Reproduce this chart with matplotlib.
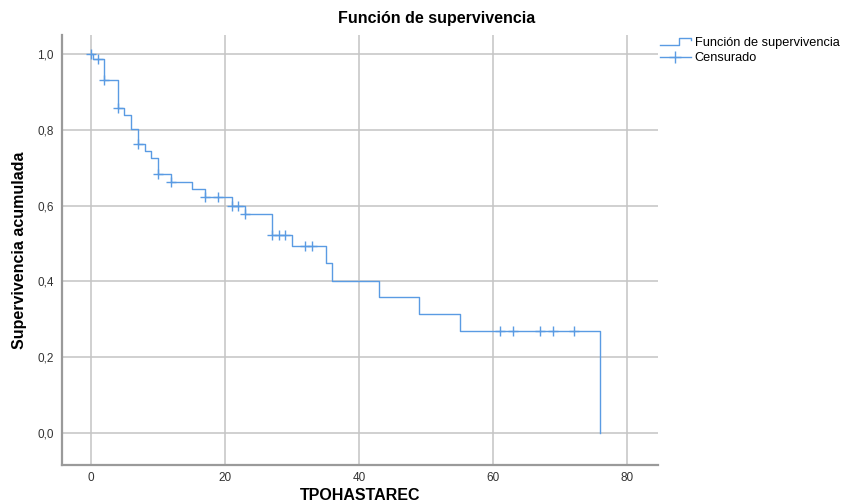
import matplotlib
matplotlib.use('Agg')
import matplotlib.pyplot as plt
from matplotlib.lines import Line2D
from matplotlib.legend_handler import HandlerBase
import numpy as np

plt.rcParams['font.family'] = ['Liberation Sans', 'DejaVu Sans']

# KAPLAN-MEIER STEPS
step_times = [0, 0.3, 2, 4, 5, 6, 7, 8, 9, 10, 12, 15, 17, 21, 23, 27, 30, 35, 36, 43, 49, 55, 76]
step_surv = [1.0, 0.986, 0.931, 0.857, 0.838, 0.801, 0.762, 0.743, 0.725, 0.683, 0.663, 0.643,
             0.622, 0.600, 0.577, 0.522, 0.493, 0.448, 0.402, 0.359, 0.314, 0.270, 0.0]
# CENSORED CASES
censor_times = [0, 1, 2, 4, 7, 10, 12, 17, 19, 21, 22, 23, 27, 28, 29, 32, 33, 61, 63, 67, 69, 72]

x_ticks = [0, 20, 40, 60, 80]
y_ticks = [0.0, 0.2, 0.4, 0.6, 0.8, 1.0]
y_labels = ['0,0', '0,2', '0,4', '0,6', '0,8', '1,0']

blue = '#5a9be3'


def surv_at(t):
    idx = np.searchsorted(step_times, t, side='right') - 1
    return step_surv[idx]


censor_surv = [surv_at(t) for t in censor_times]


class StepHandler(HandlerBase):
    def create_artists(self, legend, orig, xd, yd, w, h, fontsize, trans):
        xs = [xd, xd + w * 0.6, xd + w * 0.6, xd + w, xd + w]
        lo, hi = yd + h * 0.1, yd + h * 0.95
        ys = [lo, lo, hi, hi, hi - h * 0.3]
        ln = Line2D(xs, ys, color=blue, lw=1.0, transform=trans)
        return [ln]


fig = plt.figure(figsize=(8.43, 5.04), dpi=100)
ax = fig.add_axes([0.0735, 0.0774, 0.7071, 0.8532])

ax.plot(step_times, step_surv, drawstyle='steps-post', color=blue, lw=1.0)
ax.plot(censor_times, censor_surv, linestyle='none', marker='+', color=blue,
        markersize=7, markeredgewidth=1.0)

ax.set_xlim(-4.33, 84.6)
ax.set_ylim(-0.0844, 1.05)
ax.set_xticks(x_ticks)
ax.set_yticks(y_ticks)
ax.set_yticklabels(y_labels)
ax.tick_params(length=0, labelsize=8.5, colors='#333333')
ax.tick_params(axis='x', pad=5)
ax.tick_params(axis='y', pad=6)

ax.grid(True, color='#c4c4c4', lw=1.1)
ax.set_axisbelow(True)
for s in ['top', 'right']:
    ax.spines[s].set_visible(False)
for s in ['left', 'bottom']:
    ax.spines[s].set_color('#9a9a9a')
    ax.spines[s].set_linewidth(1.6)

ax.set_ylabel('Supervivencia acumulada', fontsize=11.5, fontweight='bold', labelpad=7)
fig.text(360 / 843, 1 - 496 / 504, 'TPOHASTAREC', fontsize=11.5, fontweight='bold',
         ha='center', va='center')
fig.text(437 / 843, 1 - 18 / 504, 'Función de supervivencia', fontsize=11.5,
         fontweight='bold', ha='center', va='center')

h1 = Line2D([], [], color=blue, lw=1.0)
h2 = Line2D([], [], color=blue, lw=1.0, marker='+', markersize=9)
fig.legend([h1, h2], ['Función de supervivencia', 'Censurado'],
           handler_map={h1: StepHandler()},
           loc='upper left', bbox_to_anchor=(655 / 843, 1 - 32 / 504),
           frameon=False, fontsize=9.2, handlelength=2.4, handletextpad=0.3,
           labelspacing=0.25, borderaxespad=0)

plt.savefig('out.png', dpi=100)
